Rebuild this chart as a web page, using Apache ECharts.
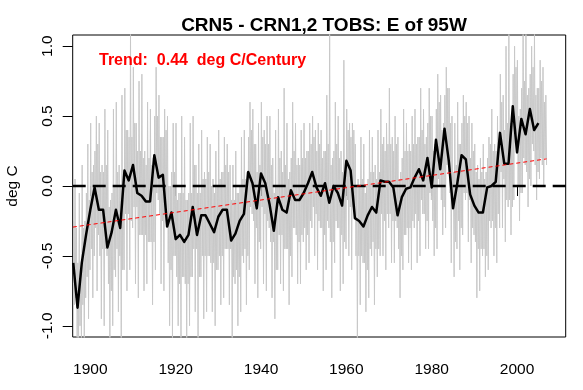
<!DOCTYPE html>
<html>
<head>
<meta charset="utf-8">
<script src="https://cdn.jsdelivr.net/npm/echarts@6/dist/echarts.min.js"></script>
<style>html,body{margin:0;padding:0;background:#fff}#c{width:583px;height:390px}</style>
</head>
<body>
<div id="c"></div>
<script>
// ---- data ----
const titleText = 'CRN5 - CRN1,2 TOBS: E of 95W';
const trendText = 'Trend:  0.44  deg C/Century';
const yAxisTitle = 'deg C';
const xTicks = [1900, 1920, 1940, 1960, 1980, 2000];
const yTicks = [-1.0, -0.5, 0.0, 0.5, 1.0];
const yTickLabels = ['-1.0', '-0.5', '0.0', '0.5', '1.0'];

// annual values (black line), 1896..2005
const annualStart = 1896;
const annualValues = [
 -0.55,-0.87,-0.55,-0.35,-0.17,-0.01,-0.17,-0.17,-0.44,-0.33,
 -0.17,-0.30, 0.11, 0.04, 0.15,-0.05,-0.07,-0.11,-0.11, 0.22,
  0.06, 0.08,-0.29,-0.19,-0.38,-0.35,-0.40,-0.35,-0.15,-0.35,
 -0.21,-0.21,-0.27,-0.33,-0.22,-0.17,-0.17,-0.39,-0.34,-0.25,
 -0.20, 0.10, 0.02,-0.16, 0.09, 0.02,-0.13,-0.32,-0.08,-0.17,
 -0.19,-0.03,-0.10,-0.10,-0.05, 0.02, 0.10,-0.01,-0.07, 0.02,
 -0.12, 0.00,-0.05,-0.14, 0.18, 0.11,-0.23,-0.25,-0.29,-0.21,
 -0.15,-0.19, 0.04, 0.03, 0.03,-0.01,-0.21,-0.08,-0.02,-0.01,
  0.06, 0.12, 0.04, 0.20,-0.01, 0.33, 0.12, 0.41, 0.18,-0.16,
  0.02, 0.22, 0.19,-0.06,-0.14,-0.19,-0.19,-0.01, 0.00, 0.03,
  0.38, 0.16, 0.16, 0.57, 0.24, 0.48, 0.37, 0.55, 0.40, 0.45
];

// bi-monthly values (grey), six readings per year, 1896..2006
const subStart = 1896;
const subValues = [
 [-0.25,-0.85,0.05,-0.8,-0.3,-1.1],[-0.55,-1.1,-0.05,-1.0,-0.6,-1.1],[0.15,-0.85,-0.3,-1.1,-0.25,-0.8],
 [-0.05,-0.65,0.3,-0.95,-0.1,-0.6],[0.45,-0.45,0.1,-0.8,0.15,-0.5],[0.25,-0.3,0.5,-0.75,0.3,-0.35],
 [0.45,-0.5,0.1,-0.95,0.15,-0.45],[0.1,-1.0,0.55,-0.45,0.15,-0.5],[0.4,-0.7,-0.15,-1.1,-0.1,-0.75],
 [-0.05,-1.0,0.55,-0.6,0.0,-0.65],[0.6,-0.45,0.1,-0.9,0.15,-0.5],[0.0,-1.1,0.65,-0.6,0.0,-0.6],
 [0.7,-0.2,0.4,-0.75,0.4,-0.2],[0.35,-0.6,1.1,-0.25,0.35,-0.3],[0.85,-0.15,0.45,-0.7,0.45,-0.15],
 [0.25,-0.8,0.75,-0.35,0.25,-0.35],[0.8,-0.35,0.2,-0.75,0.25,-0.35],[0.15,-0.7,0.6,-0.4,0.2,-0.4],
 [0.55,-0.4,0.15,-0.85,0.2,-0.4],[0.5,-0.6,0.85,-0.05,0.5,-0.1],[0.65,-0.2,0.35,-0.7,0.35,-0.25],
 [0.35,-0.75,0.55,-0.2,0.4,-0.2],[0.5,-0.55,0.0,-1.0,0.0,-0.6],[0.1,-1.1,0.45,-0.5,0.1,-0.5],
 [0.45,-0.65,-0.1,-1.0,-0.05,-0.7],[-0.05,-1.1,0.5,-0.65,-0.05,-0.65],[0.35,-0.7,-0.1,-1.1,-0.1,-0.7],
 [-0.05,-1.0,0.45,-0.65,-0.05,-0.65],[0.5,-0.45,0.15,-0.9,0.15,-0.45],[-0.05,-1.1,0.3,-0.65,-0.05,-0.65],
 [0.4,-0.5,0.05,-0.95,0.1,-0.5],[0.05,-0.9,0.35,-0.5,0.1,-0.5],[0.3,-0.55,0.0,-0.9,0.05,-0.55],
 [-0.05,-1.0,0.25,-0.6,0.0,-0.6],[0.4,-0.5,0.05,-0.85,0.1,-0.5],[0.1,-0.8,0.35,-0.45,0.15,-0.45],
 [0.3,-0.45,0.1,-0.85,0.15,-0.45],[-0.1,-1.1,0.15,-0.65,-0.1,-0.7],[0.25,-0.6,-0.05,-1.0,-0.05,-0.65],
 [0.0,-0.9,0.35,-0.5,0.05,-0.55],[0.4,-0.45,0.05,-0.85,0.1,-0.5],[0.35,-0.6,0.6,-0.15,0.4,-0.2],
 [0.55,-0.25,0.3,-0.7,0.3,-0.3],[0.1,-0.8,0.45,-0.4,0.15,-0.45],[0.6,-0.15,0.35,-0.7,0.4,-0.2],
 [0.3,-0.75,0.5,-0.25,0.3,-0.3],[0.5,-0.4,0.15,-0.8,0.2,-0.4],[-0.05,-0.95,0.4,-0.6,0.0,-0.6],
 [0.55,-0.35,0.2,-0.7,0.25,-0.35],[0.1,-0.75,0.7,-0.45,0.15,-0.45],[0.45,-0.45,0.05,-0.85,0.1,-0.5],
 [0.2,-0.65,0.6,-0.3,0.25,-0.3],[0.45,-0.35,0.15,-0.7,0.2,-0.4],[0.15,-0.7,0.4,-0.35,0.2,-0.4],
 [0.45,-0.3,0.2,-0.6,0.25,-0.35],[0.25,-0.55,0.45,-0.25,0.3,-0.3],[0.5,-0.15,0.35,-0.5,0.4,-0.2],
 [0.25,-0.6,0.45,-0.25,0.3,-0.3],[0.4,-0.3,0.2,-0.75,0.25,-0.35],[0.25,-0.6,0.65,-0.25,0.3,-0.3],
 [1.1,-0.4,0.15,-0.8,0.2,-0.4],[0.25,-0.55,0.6,-0.25,0.3,-0.3],[0.5,-0.3,0.2,-0.75,0.25,-0.35],
 [0.1,-0.7,0.9,-0.4,0.15,-0.45],[0.55,-0.1,0.4,-0.5,0.45,-0.15],[0.35,-0.6,0.45,-0.15,0.4,-0.2],
 [0.3,-0.5,0.0,-1.1,0.05,-0.5],[0.0,-0.85,0.35,-0.5,0.05,-0.55],[0.3,-0.55,-0.05,-0.9,0.0,-0.6],
 [0.05,-0.8,0.4,-0.45,0.1,-0.5],[0.35,-0.4,0.1,-0.85,0.15,-0.45],[0.05,-0.65,0.4,-0.45,0.1,-0.5],
 [0.55,-0.2,0.3,-0.5,0.35,-0.25],[0.25,-0.6,0.45,-0.2,0.3,-0.3],[0.7,-0.2,0.3,-0.55,0.35,-0.25],
 [0.25,-0.55,0.5,-0.25,0.3,-0.3],[0.35,-0.45,0.05,-0.8,0.1,-0.5],[0.2,-0.6,0.55,-0.35,0.25,-0.35],
 [0.45,-0.3,0.25,-0.55,0.3,-0.3],[0.25,-0.6,0.5,-0.25,0.3,-0.3],[0.55,-0.2,0.3,-0.55,0.35,-0.25],
 [0.35,-0.5,0.7,-0.1,0.4,-0.2],[0.55,-0.2,0.3,-0.45,0.35,-0.25],[0.45,-0.45,0.7,-0.05,0.5,-0.1],
 [0.5,-0.25,0.25,-0.5,0.3,-0.3],[0.55,-0.45,0.8,0.05,0.6,0.0],[0.65,-0.1,0.4,-0.35,0.45,-0.15],
 [0.65,-0.3,0.85,0.15,0.7,0.1],[0.7,-0.05,0.45,-0.55,0.5,-0.1],[0.1,-0.65,0.45,-0.4,0.15,-0.45],
 [0.6,-0.25,0.3,-0.6,0.3,-0.3],[0.45,-0.35,0.65,-0.05,0.5,-0.1],[0.6,-0.05,0.45,-0.4,0.5,-0.1],
 [0.2,-0.55,0.45,-0.3,0.25,-0.35],[0.3,-0.4,0.1,-0.8,0.15,-0.45],[0.05,-0.75,0.2,-0.45,0.1,-0.5],
 [0.3,-0.45,0.05,-0.65,0.1,-0.5],[0.2,-0.6,0.35,-0.25,0.3,-0.3],[0.55,-0.25,0.25,-0.5,0.3,-0.3],
 [0.25,-0.55,0.5,-0.2,0.3,-0.3],[0.8,0.1,0.6,-0.3,0.65,0.05],[0.4,-0.4,1.0,-0.1,0.45,-0.15],
 [1.1,-0.1,0.45,-0.35,0.5,-0.15],[0.8,-0.1,1.0,0.3,0.85,0.25],[0.9,0.0,0.5,-0.25,0.55,-0.05],
 [0.7,-0.05,1.1,0.2,0.75,0.15],[1.1,0.1,0.65,-0.15,0.7,0.05],[0.8,0.0,1.0,0.3,0.85,0.25],
 [1.1,0.15,0.65,-0.1,0.7,0.1],[0.7,0.05,0.9,0.2,0.75,0.15],[0.85,0.0,0.6,0.2,0.65,0.15]
];

// linear trend end points
const trendYears = [1895.9, 2006.9];
const trendValues = [-0.294, 0.194];

// zero reference
const zeroValue = 0;

// ---- axis ranges ----
const xMin = 1895.87, xMax = 2011.4;
const yMin = -1.08, yMax = 1.08;

// ---- build series data ----
const annualData = annualValues.map((v, i) => [annualStart + i, v]);
const subData = [];
subValues.forEach((arr, i) => {
  arr.forEach((v, q) => subData.push([subStart + i + (2 * q + 1) / 12, v]));
});
const trendData = trendYears.map((y, i) => [y, trendValues[i]]);
const zeroData = [[xMin, zeroValue], [xMax, zeroValue]];

const chart = echarts.init(document.getElementById('c'), null, {renderer: 'canvas'});
const font = 'Liberation Sans, Arial, Helvetica, sans-serif';
chart.setOption({
  animation: false,
  backgroundColor: '#ffffff',
  title: {
    text: titleText,
    left: 319, top: 11, textAlign: 'center',
    textStyle: {fontFamily: font, fontWeight: 'bold', fontSize: 19, color: '#000'}
  },
  grid: {left: 72.7, right: 17.3, top: 35, bottom: 53, show: true,
         borderColor: '#000', borderWidth: 1, backgroundColor: 'transparent'},
  xAxis: {
    type: 'value', min: xMin, max: xMax,
    axisLine: {show: false},
    splitLine: {show: false},
    axisTick: {show: true, length: 10, inside: false, customValues: xTicks,
               lineStyle: {color: '#000', width: 1}},
    axisLabel: {customValues: xTicks, margin: 25, fontFamily: font, fontSize: 15.5, color: '#000',
                formatter: v => String(v)}
  },
  yAxis: {
    type: 'value', min: yMin, max: yMax,
    axisLine: {show: false},
    splitLine: {show: false},
    axisTick: {show: true, length: 10, inside: false, customValues: yTicks,
               lineStyle: {color: '#000', width: 1}},
    axisLabel: {customValues: yTicks, rotate: 90, margin: 17, fontFamily: font, fontSize: 15.5, color: '#000',
                formatter: v => yTickLabels[yTicks.findIndex(t => Math.abs(t - v) < 1e-9)] ?? v.toFixed(1)}
  },
  graphic: [
    {type: 'text', x: 13, y: 186, rotation: Math.PI / 2,
     style: {text: yAxisTitle, fontFamily: font, fontSize: 15.5, fill: '#000',
             textAlign: 'center', textVerticalAlign: 'middle'}},
    {type: 'text', x: 99, y: 61,
     style: {text: trendText, fontFamily: font, fontSize: 16, fontWeight: 'bold', fill: '#ff0000',
             textAlign: 'left', textVerticalAlign: 'middle'}, z: 100}
  ],
  series: [
    {type: 'line', data: subData, showSymbol: false, clip: true,
     lineStyle: {color: '#c8c8c8', width: 1}, z: 1},
    {type: 'line', data: annualData, showSymbol: false, clip: true,
     lineStyle: {color: '#000', width: 2.5, join: 'round'}, z: 2},
    {type: 'line', data: zeroData, showSymbol: false, clip: true,
     lineStyle: {color: '#000', width: 2.5, type: [13, 7]}, z: 3},
    {type: 'line', data: trendData, showSymbol: false, clip: true,
     lineStyle: {color: '#ff0000', width: 1, type: [4, 3]}, z: 4}
  ]
});
</script>
</body>
</html>
